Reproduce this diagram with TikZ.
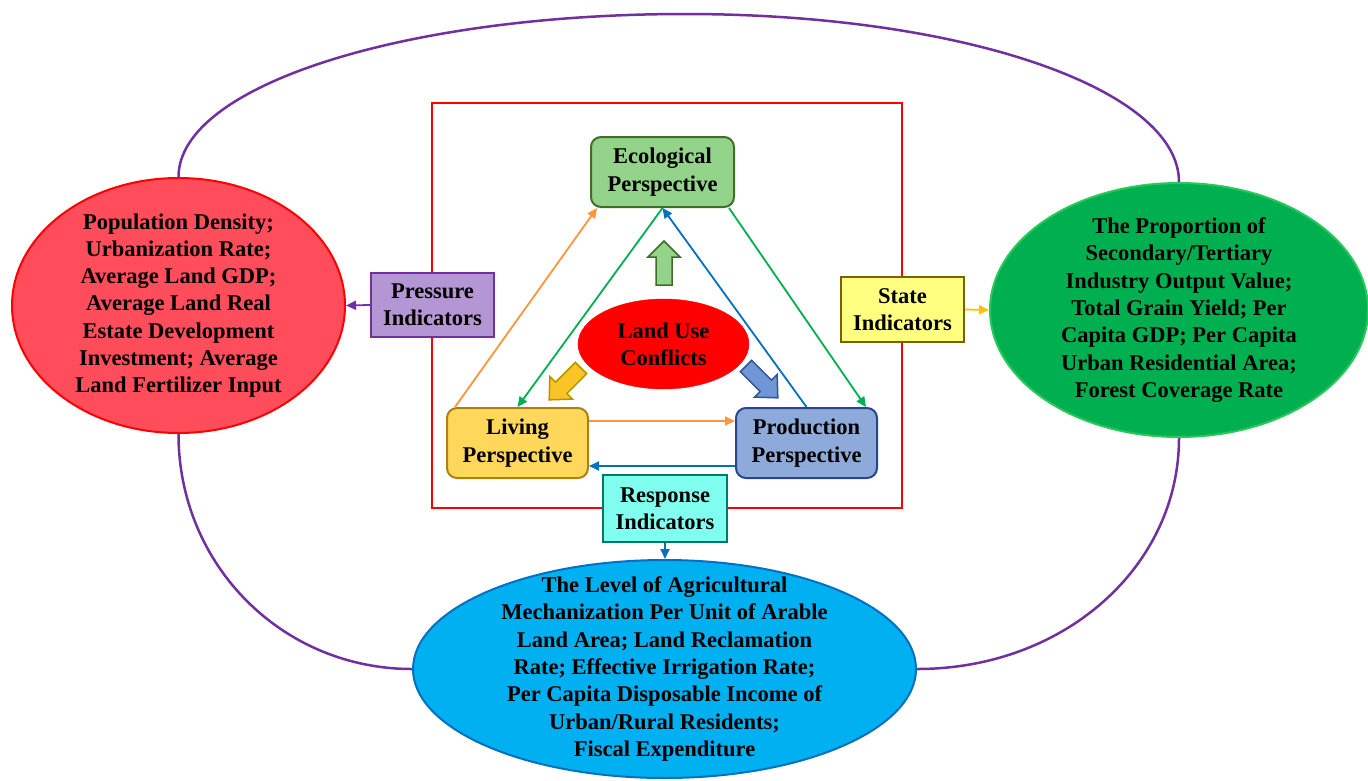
\documentclass[tikz,border=0pt]{standalone}
\usepackage{fontspec}
\setmainfont{Liberation Serif}
\usetikzlibrary{shapes.geometric,arrows.meta,calc}
\definecolor{frameRed}{RGB}{255,0,0}
\definecolor{ecoFill}{RGB}{147,211,138}
\definecolor{ecoLine}{RGB}{64,110,40}
\definecolor{livFill}{RGB}{255,215,90}
\definecolor{livLine}{RGB}{170,130,20}
\definecolor{proFill}{RGB}{142,170,219}
\definecolor{proLine}{RGB}{40,70,140}
\definecolor{presFill}{RGB}{180,150,212}
\definecolor{presLine}{RGB}{112,48,160}
\definecolor{stFill}{RGB}{255,255,128}
\definecolor{stLine}{RGB}{127,96,0}
\definecolor{resFill}{RGB}{128,255,240}
\definecolor{resLine}{RGB}{0,120,110}
\definecolor{redEll}{RGB}{255,77,92}
\definecolor{greenEll}{RGB}{0,176,80}
\definecolor{greenEllLine}{RGB}{40,200,90}
\definecolor{blueEll}{RGB}{0,176,240}
\definecolor{blueEllLine}{RGB}{0,112,192}
\definecolor{arcPurple}{RGB}{112,48,160}
\definecolor{arOrange}{RGB}{255,150,60}
\definecolor{arGreen}{RGB}{0,176,80}
\definecolor{arBlue}{RGB}{0,112,192}
\definecolor{arGold}{RGB}{255,192,0}
\definecolor{goldArrow}{RGB}{250,195,40}
\definecolor{goldArrowLine}{RGB}{190,145,0}
\definecolor{blueArrow}{RGB}{112,150,214}
\definecolor{blueArrowLine}{RGB}{47,85,151}
\begin{document}
\begin{tikzpicture}[x=1pt,y=-1pt,
  txt/.style={font=\bfseries\fontsize{22.5}{27.3}\selectfont, align=center, text=black},
  persp/.style={txt, draw, line width=2pt, rounded corners=10pt, inner sep=0pt},
  indbox/.style={txt, draw, line width=2pt, inner sep=0pt},
  bigell/.style={ellipse, txt, line width=2pt, inner xsep=0pt, inner ysep=-30pt},
  conn/.style={line width=1.8pt, -{Triangle[length=10pt,width=9pt]}},
  purplearc/.style={draw=arcPurple, line width=2.5pt},
  blockarr/.style={line width=1.5pt, line join=miter}]
\useasboundingbox[fill=white] (0,0) rectangle (1368,780);

% outer ellipses
\node[bigell, draw=frameRed, fill=redEll, minimum width=333pt, minimum height=255pt] (redE) at (178.5,305.5)
  {Population Density;\\Urbanization Rate;\\Average Land GDP;\\Average Land Real\\Estate Development\\Investment; Average\\Land Fertilizer Input};
\node[bigell, draw=greenEllLine, fill=greenEll, minimum width=378pt, minimum height=254pt] (greenE) at (1179,310)
  {The Proportion of\\Secondary/Tertiary\\Industry Output Value;\\Total Grain Yield; Per\\Capita GDP; Per Capita\\Urban Residential Area;\\Forest Coverage Rate};
\node[bigell, draw=blueEllLine, fill=blueEll, minimum width=503pt, minimum height=218pt] (blueE) at (664.5,669)
  {The Level of Agricultural\\Mechanization Per Unit of Arable\\Land Area; Land Reclamation\\Rate; Effective Irrigation Rate;\\Per Capita Disposable Income of\\Urban/Rural Residents;\\Fiscal Expenditure};

% outer purple arcs
\coordinate (topc) at (685,14);
\draw[purplearc] (redE.north) .. controls +(0,-92) and +(-278,0) .. (topc)
  .. controls +(278,0) and +(0,-93) .. (greenE.north);
\draw[purplearc] (redE.south) .. controls +(0,131) and +(-130,0) .. (blueE.west);
\draw[purplearc] (blueE.east) .. controls +(148,0) and +(0,128) .. (greenE.south);

% red frame
\draw[frameRed, line width=2pt] (432,103) rectangle (902,508);

% inner nodes
\node[persp, draw=ecoLine, fill=ecoFill, minimum width=143pt, minimum height=70pt] (eco) at (662.5,172) {Ecological\\Perspective};
\node[persp, draw=livLine, fill=livFill, minimum width=141pt, minimum height=70pt] (liv) at (517.5,443) {Living\\Perspective};
\node[persp, draw=proLine, fill=proFill, minimum width=141pt, minimum height=70pt] (pro) at (806.5,443) {Production\\Perspective};
\node[ellipse, txt, fill=red, draw=red, minimum width=171pt, minimum height=90pt, inner xsep=0pt, inner ysep=-10pt] (luc) at (663.5,344) {Land Use\\Conflicts};

% triangle connectors
\draw[conn, arOrange] ([xshift=9pt]liv.north west) -- ([xshift=7pt]eco.south west);
\draw[conn, arGreen] (eco.south) -- (liv.north);
\draw[conn, arBlue] (pro.north) -- (eco.south);
\draw[conn, arGreen] ([xshift=-6pt]eco.south east) -- ([xshift=-12pt]pro.north east);
\draw[conn, arOrange] ([yshift=22pt]liv.east) -- ([yshift=22pt]pro.west);
\draw[conn, arBlue] ([yshift=-23pt]pro.west) -- ([yshift=-23pt]liv.east);

% block arrows
\draw[blockarr, draw=ecoLine, fill=ecoFill, shift={(664,285)}, rotate=90]
  (0,-8) -- (28,-8) -- (28,-16) -- (44,0) -- (28,16) -- (28,8) -- (0,8) -- cycle;
\draw[blockarr, draw=goldArrowLine, fill=goldArrow, shift={(581,368)}, rotate=225]
  (0,-8) -- (28,-8) -- (28,-16) -- (45,0) -- (28,16) -- (28,8) -- (0,8) -- cycle;
\draw[blockarr, draw=blueArrowLine, fill=blueArrow, shift={(746,366)}, rotate=-45]
  (0,-8) -- (28,-8) -- (28,-16) -- (45,0) -- (28,16) -- (28,8) -- (0,8) -- cycle;

% indicator boxes
\node[indbox, draw=presLine, fill=presFill, minimum width=123pt, minimum height=64pt] (pres) at (432.5,305) {Pressure\\Indicators};
\node[indbox, draw=stLine, fill=stFill, minimum width=123pt, minimum height=65pt] (state) at (902.5,309.5) {State\\Indicators};
\node[indbox, draw=resLine, fill=resFill, minimum width=124pt, minimum height=67pt] (resp) at (665,508.5) {Response\\Indicators};

\draw[conn, arcPurple] (pres.west) -- (redE.east);
\draw[conn, arGold] (state.east) -- (greenE.west);
\draw[conn, arBlue] (resp.south) -- (resp.south |- blueE.north);
\end{tikzpicture}
\end{document}
